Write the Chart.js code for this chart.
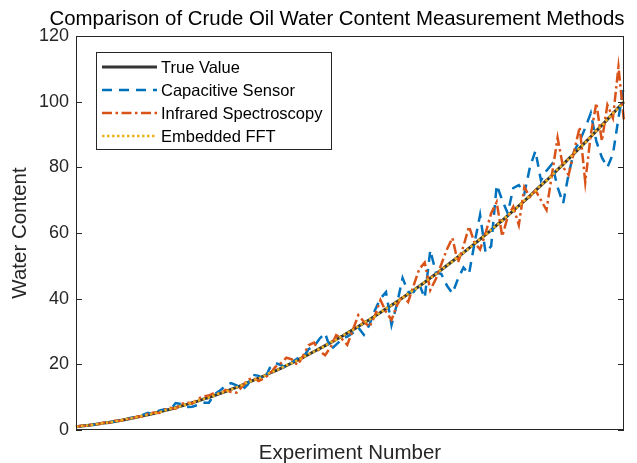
<!DOCTYPE html>
<html>
<head>
<meta charset="utf-8">
<script src="https://cdn.jsdelivr.net/npm/chart.js@4.4.1/dist/chart.umd.min.js"></script>
<style>
  html, body { margin: 0; padding: 0; background: #ffffff; }
  #wrap { width: 637px; height: 463px; }
</style>
</head>
<body>
<div id="wrap"><canvas id="chart" width="637" height="463"></canvas></div>
<script>
const experimentNumbers = Array.from({ length: 100 }, (_, i) => i + 1);

const trueValue = [
  1.0, 1.2, 1.4, 1.6, 1.8, 2.1, 2.3, 2.6, 2.9, 3.2,
  3.6, 3.9, 4.3, 4.6, 5.0, 5.5, 5.9, 6.3, 6.8, 7.3,
  7.8, 8.3, 8.8, 9.4, 9.9, 10.5, 11.1, 11.7, 12.4, 13.0,
  13.7, 14.4, 15.1, 15.8, 16.5, 17.3, 18.0, 18.8, 19.6, 20.4,
  21.3, 22.1, 23.0, 23.9, 24.8, 25.7, 26.6, 27.6, 28.5, 29.5,
  30.5, 31.5, 32.6, 33.6, 34.7, 35.8, 36.9, 38.0, 39.1, 40.3,
  41.4, 42.6, 43.8, 45.0, 46.3, 47.5, 48.8, 50.1, 51.4, 52.7,
  54.0, 55.4, 56.7, 58.1, 59.5, 60.9, 62.4, 63.8, 65.3, 66.8,
  68.3, 69.8, 71.3, 72.9, 74.5, 76.0, 77.6, 79.3, 80.9, 82.6,
  84.2, 85.9, 87.6, 89.3, 91.1, 92.8, 94.6, 96.4, 98.2, 100.0
];

const capacitiveSensor = [
  1.1, 1.2, 1.5, 1.5, 1.9, 2.0, 2.4, 2.6, 3.0, 3.3,
  3.7, 3.8, 4.6, 5.2, 4.7, 5.9, 6.3, 6.0, 8.2, 7.9,
  7.0, 7.1, 7.6, 8.3, 8.3, 10.9, 12.0, 13.4, 14.3, 13.6,
  12.2, 13.8, 16.8, 16.5, 15.2, 18.9, 20.4, 19.8, 18.9, 20.6,
  21.8, 22.0, 24.6, 25.5, 27.8, 29.5, 24.4, 26.0, 27.6, 28.4,
  29.5, 31.2, 29.0, 32.0, 36.5, 40.0, 42.0, 32.0, 38.5, 46.3,
  42.0, 42.0, 44.5, 40.2, 54.8, 48.0, 47.5, 44.0, 41.6, 46.0,
  49.5, 47.5, 57.0, 65.5, 54.0, 56.0, 74.6, 70.0, 66.0, 73.7,
  74.6, 72.0, 80.0, 85.0, 76.0, 79.0, 81.0, 74.0, 69.0, 78.0,
  85.0, 88.0, 92.0, 96.5, 88.0, 83.0, 80.0, 84.0, 95.0, 105.0
];

const infraredSpectroscopy = [
  0.9, 1.3, 1.3, 1.7, 1.8, 2.2, 2.2, 2.8, 2.8, 3.4,
  3.4, 4.1, 4.1, 4.9, 5.3, 5.2, 6.2, 6.8, 6.5, 7.9,
  8.4, 8.0, 9.5, 10.2, 10.5, 11.3, 11.0, 12.2, 11.6, 11.4,
  13.2, 15.3, 15.9, 14.9, 15.8, 17.0, 19.2, 20.3, 22.0, 21.5,
  19.8, 22.5, 25.8, 26.6, 24.0, 22.8, 25.2, 28.9, 27.8, 25.9,
  30.4, 35.0, 33.0, 31.4, 34.8, 39.6, 36.0, 33.5, 38.0, 41.0,
  39.0, 44.0, 49.0, 51.0, 42.6, 46.0, 50.5, 55.0, 58.5, 51.0,
  56.0, 62.0, 57.0, 55.0, 60.0, 66.0, 69.4, 59.0, 65.0, 68.0,
  62.4, 74.0, 71.0, 73.0, 70.0, 67.0, 78.0, 89.0, 80.0, 77.7,
  85.0, 92.3, 75.5, 90.0, 99.6, 88.0, 99.0, 95.0, 110.6, 94.0
];

const embeddedFFT = [
  1.0, 1.2, 1.4, 1.6, 1.9, 2.1, 2.3, 2.6, 2.9, 3.3,
  3.6, 3.9, 4.3, 4.7, 5.0, 5.4, 5.9, 6.4, 6.8, 7.3,
  7.8, 8.3, 8.9, 9.4, 9.9, 10.5, 11.2, 11.7, 12.3, 13.0,
  13.7, 14.5, 15.1, 15.7, 16.5, 17.4, 18.0, 18.8, 19.7, 20.4,
  21.2, 22.1, 23.1, 23.9, 24.7, 25.7, 26.7, 27.5, 28.5, 29.6,
  30.4, 31.5, 32.7, 33.6, 34.6, 35.8, 37.0, 38.0, 39.0, 40.3,
  41.5, 42.6, 43.7, 45.1, 46.3, 47.4, 48.9, 50.1, 51.3, 52.8,
  54.0, 55.3, 56.8, 58.1, 59.4, 61.0, 62.4, 63.7, 65.4, 66.8,
  68.2, 69.9, 71.3, 72.8, 74.6, 76.0, 77.5, 79.4, 80.9, 82.5,
  84.3, 85.9, 87.5, 89.4, 91.1, 92.7, 94.7, 96.4, 98.1, 100.1
];

const yTicks = [0, 20, 40, 60, 80, 100, 120];

const FONT = '"Liberation Sans", Arial, sans-serif';
const AXIS_COLOR = "#262626";

const seriesConfig = [
  { label: "True Value", data: trueValue, color: "#353535", width: 3, dash: [], order: 4 },
  { label: "Capacitive Sensor", data: capacitiveSensor, color: "#0072BD", width: 2.5, dash: [10, 7], order: 3 },
  { label: "Infrared Spectroscopy", data: infraredSpectroscopy, color: "#D95319", width: 2.5, dash: [10, 3.5, 2.5, 3.5], order: 2 },
  { label: "Embedded FFT", data: embeddedFFT, color: "#EDB120", width: 2.5, dash: [2.5, 2.5], order: 1 }
];

// frame, inward ticks, legend box and the text labels, drawn MATLAB-style
const decorations = {
  id: "decorations",
  afterDraw(chart) {
    const { ctx, chartArea: a } = chart;
    const y = chart.scales.y;
    ctx.save();

    ctx.strokeStyle = AXIS_COLOR;
    ctx.lineWidth = 1;
    ctx.setLineDash([]);
    ctx.strokeRect(a.left + 0.5, a.top + 0.5, a.right - a.left - 1, a.bottom - a.top - 1);
    ctx.beginPath();
    yTicks.forEach((value) => {
      const py = Math.round(y.getPixelForValue(value)) + 0.5;
      ctx.moveTo(a.left, py);
      ctx.lineTo(a.left + 6, py);
      ctx.moveTo(a.right, py);
      ctx.lineTo(a.right - 6, py);
    });
    ctx.stroke();

    ctx.fillStyle = "#000000";
    ctx.font = `20.4px ${FONT}`;
    ctx.textAlign = "center";
    ctx.textBaseline = "alphabetic";
    ctx.fillText("Comparison of Crude Oil Water Content Measurement Methods", 337, 25);

    ctx.font = `20.5px ${FONT}`;
    ctx.fillStyle = AXIS_COLOR;
    ctx.fillText("Experiment Number", (a.left + a.right) / 2, 459);

    ctx.save();
    ctx.translate(26, (a.top + a.bottom) / 2);
    ctx.rotate(-Math.PI / 2);
    ctx.fillText("Water Content", 0, 0);
    ctx.restore();

    const box = { x: 96, y: 52, w: 235, h: 97 };
    ctx.fillStyle = "#ffffff";
    ctx.fillRect(box.x, box.y, box.w, box.h);
    ctx.strokeStyle = AXIS_COLOR;
    ctx.lineWidth = 1;
    ctx.strokeRect(box.x + 0.5, box.y + 0.5, box.w, box.h);

    ctx.font = `16.5px ${FONT}`;
    ctx.textAlign = "left";
    ctx.textBaseline = "middle";
    seriesConfig.forEach((s, i) => {
      const rowY = 67 + i * 23;
      ctx.strokeStyle = s.color;
      ctx.lineWidth = s.width;
      ctx.setLineDash(s.dash);
      ctx.beginPath();
      ctx.moveTo(102, rowY);
      ctx.lineTo(157, rowY);
      ctx.stroke();
      ctx.fillStyle = "#000000";
      ctx.fillText(s.label, 161, rowY + 1);
    });

    ctx.restore();
  }
};

new Chart(document.getElementById("chart").getContext("2d"), {
  type: "line",
  data: {
    labels: experimentNumbers,
    datasets: seriesConfig.map((s) => ({
      label: s.label,
      data: s.data,
      borderColor: s.color,
      borderWidth: s.width,
      borderDash: s.dash,
      pointRadius: 0,
      tension: 0,
      fill: false,
      order: s.order
    }))
  },
  options: {
    responsive: false,
    animation: false,
    devicePixelRatio: 1,
    layout: { padding: { top: 36, right: 13, bottom: 0, left: 0 } },
    plugins: {
      legend: { display: false },
      tooltip: { enabled: false }
    },
    scales: {
      x: {
        offset: false,
        grid: { display: false, drawTicks: false },
        border: { display: false },
        ticks: { display: false },
        afterFit(scale) { scale.height = 33; }
      },
      y: {
        min: 0,
        max: 120,
        grid: { display: false, drawTicks: false },
        border: { display: false },
        ticks: {
          stepSize: 20,
          padding: 7,
          color: AXIS_COLOR,
          font: { family: FONT, size: 18 }
        },
        afterFit(scale) { scale.width = 76; }
      }
    }
  },
  plugins: [decorations]
});
</script>
</body>
</html>
